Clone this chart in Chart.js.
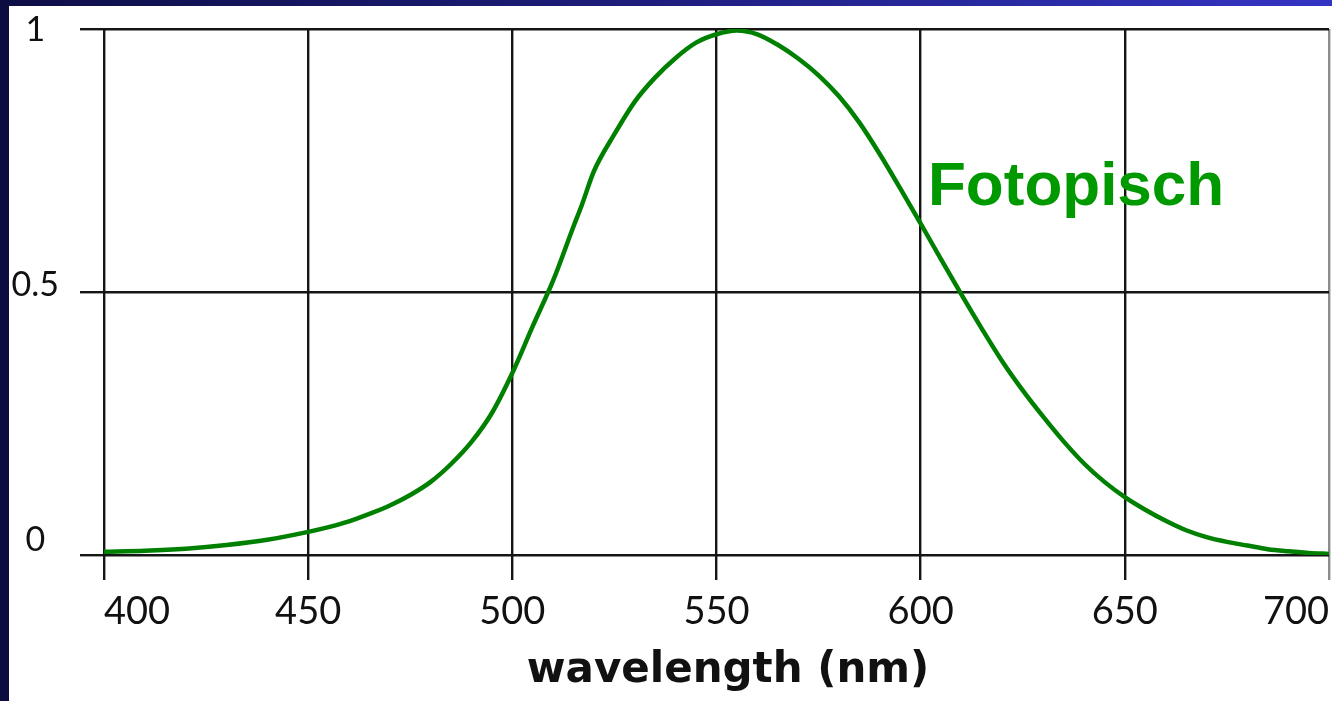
<!DOCTYPE html>
<html>
<head>
<meta charset="utf-8">
<title>Fotopisch</title>
<script src="https://cdn.jsdelivr.net/npm/chart.js@4/dist/chart.umd.min.js"></script>
<style>
  html, body { margin: 0; padding: 0; background: #fff; overflow: hidden; }
  #wrap { position: relative; width: 1332px; height: 701px; }
  .top-bar { position: absolute; left: 0; top: 0; width: 1332px; height: 6px;
    background: linear-gradient(to right, #0d0e46, #1c1c78 45%, #3434c4); }
  .left-bar { position: absolute; left: 0; top: 0; width: 9px; height: 701px; background: #0c0c40; }
  canvas { position: absolute; left: 0; top: 0; }
</style>
</head>
<body>
<div id="wrap">
  <div class="top-bar"></div>
  <div class="left-bar"></div>
  <canvas id="myChart" width="1332" height="701"></canvas>
</div>
<script>
// data
const wavelengths = [400, 410, 420, 430, 440, 450, 455, 460, 465, 470, 475, 480, 485, 490, 495,
  500, 505, 510, 515, 517, 520, 525, 530, 535, 540, 545, 550, 555, 560, 565, 570, 575, 580,
  585, 590, 595, 600, 605, 610, 615, 620, 625, 630, 635, 640, 645, 650, 655, 660, 665, 670,
  675, 680, 685, 690, 695, 700];
const sensitivity = [0.006, 0.008, 0.012, 0.019, 0.029, 0.044, 0.053, 0.064, 0.078, 0.094, 0.114,
  0.139, 0.173, 0.215, 0.270, 0.346, 0.435, 0.522, 0.625, 0.665, 0.730, 0.800, 0.862, 0.908,
  0.945, 0.974, 0.990, 0.997, 0.990, 0.970, 0.944, 0.912, 0.872, 0.822, 0.762, 0.697, 0.630,
  0.562, 0.495, 0.430, 0.368, 0.313, 0.263, 0.216, 0.174, 0.139, 0.110, 0.086, 0.065, 0.047,
  0.034, 0.025, 0.018, 0.011, 0.007, 0.004, 0.002];

const xTicks = [400, 450, 500, 550, 600, 650, 700];
const yTicks = [0, 0.5, 1];
const yTickLabels = ['0', '0.5', '1'];
const seriesLabel = 'Fotopisch';
const xTitle = 'wavelength (nm)';

const makeChart = () => {
    const points = wavelengths.map((w, i) => ({x: w, y: sensitivity[i]}));
    const gridDark = '#151515';

    // texts that sit on the canvas but are not tied to a scale tick
    const textPlugin = {
        id: 'texts',
        afterDraw(chart) {
            const ctx = chart.ctx;
            ctx.save();
            ctx.textBaseline = 'alphabetic';
            ctx.fillStyle = '#111';
            ctx.font = 'bold 42px "DejaVu Sans"';
            ctx.textAlign = 'center';
            ctx.fillText(xTitle, 728, 682);
            ctx.fillStyle = '#009900';
            ctx.font = 'bold 62px "Liberation Sans"';
            ctx.textAlign = 'left';
            ctx.fillText(seriesLabel, 928, 205);
            ctx.restore();
        }
    };

    const config = {
        type: 'line',
        data: {
            datasets: [{
                label: seriesLabel,
                data: points,
                borderColor: '#008000',
                borderWidth: 4.5,
                pointRadius: 0,
                cubicInterpolationMode: 'monotone',
                fill: false
            }]
        },
        options: {
            responsive: false,
            animation: false,
            devicePixelRatio: 1,
            layout: {padding: {top: 29, right: 3, left: 0, bottom: 0}},
            plugins: {legend: {display: false}, tooltip: {enabled: false}},
            scales: {
                x: {
                    type: 'linear',
                    min: 400,
                    max: 700,
                    afterBuildTicks: s => { s.ticks = xTicks.map(v => ({value: v})); },
                    afterFit: s => { s.height = 146; s.paddingLeft = 0; s.paddingRight = 0; },
                    border: {display: false},
                    grid: {
                        color: c => c.index === 6 ? '#8c8c8c' : gridDark,
                        lineWidth: 2.4,
                        tickLength: 25
                    },
                    ticks: {
                        align: 'inner',
                        padding: 9,
                        color: '#111',
                        font: {family: 'Lato', size: 38},
                        maxRotation: 0
                    }
                },
                y: {
                    min: 0,
                    max: 1,
                    weight: 0,
                    afterBuildTicks: s => { s.ticks = yTicks.map(v => ({value: v})); },
                    afterFit: s => { s.width = 24; s.paddingTop = 0; s.paddingBottom = 0; },
                    border: {display: false},
                    grid: {color: gridDark, lineWidth: 2.4, tickLength: 24},
                    ticks: {display: false}
                },
                // labels only, placed a little off the grid lines as in the original
                yLab: {
                    position: 'left',
                    min: -0.0294,
                    max: 1.002,
                    weight: 1,
                    afterBuildTicks: s => { s.ticks = yTicks.map(v => ({value: v})); },
                    afterFit: s => { s.width = 80; s.paddingTop = 0; s.paddingBottom = 0; },
                    border: {display: false},
                    grid: {display: false, drawTicks: false},
                    ticks: {
                        crossAlign: 'center',
                        padding: 21,
                        color: '#111',
                        font: {family: 'Lato', size: 34},
                        callback: v => yTickLabels[yTicks.indexOf(v)]
                    }
                }
            }
        },
        plugins: [textPlugin]
    };

    let myChart = new Chart('myChart', config);
};

makeChart();
</script>
</body>
</html>
